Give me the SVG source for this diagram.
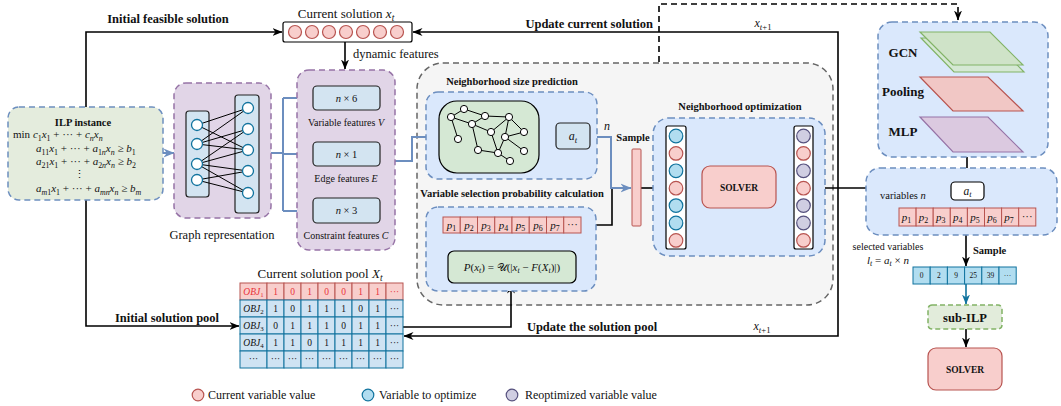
<svg xmlns="http://www.w3.org/2000/svg" width="1061" height="406" viewBox="0 0 1061 406">
<defs>
<marker id="ak" viewBox="0 0 10 10" refX="9.5" refY="5" markerWidth="10" markerHeight="10" markerUnits="userSpaceOnUse" orient="auto"><path d="M0,1 L10,5 L0,9 L3,5 Z" fill="#000"/></marker>
<marker id="ab" viewBox="0 0 10 10" refX="9.5" refY="5" markerWidth="11" markerHeight="11" markerUnits="userSpaceOnUse" orient="auto"><path d="M0,1 L10,5 L0,9 L3,5 Z" fill="#6c8ebf"/></marker>
<marker id="at" viewBox="0 0 10 10" refX="9.5" refY="5" markerWidth="10" markerHeight="10" markerUnits="userSpaceOnUse" orient="auto"><path d="M0,1 L10,5 L0,9 L3,5 Z" fill="#10739e"/></marker>
</defs>
<style>
text{font-family:"Liberation Serif","Times New Roman",serif;fill:#111}
.b{font-weight:bold}
.i{font-style:italic}
.m{text-anchor:middle}
.e{text-anchor:end}
.sb{font-size:72%;baseline-shift:-3px}
.sbs{font-size:72%;baseline-shift:-2px}
.bl{fill:none;stroke:#000;stroke-width:1.6}
.bu{fill:none;stroke:#6c8ebf;stroke-width:2}
.cr{fill:#f8cecc;stroke:#b85450;stroke-width:1.2}
.cb{fill:#b1ddf0;stroke:#10739e;stroke-width:1.2}
.cp{fill:#d0cee2;stroke:#56517e;stroke-width:1.2}
.gn{fill:#fff;stroke:#10739e;stroke-width:1.3}
.sn{fill:#fff;stroke:#000;stroke-width:1}
.dashb{fill:#dae8fc;stroke:#6c8ebf;stroke-width:1.5;stroke-dasharray:6,4}
.dashp{fill:#e1d5e7;stroke:#9673a6;stroke-width:1.5;stroke-dasharray:6,4}
.fb{fill:#d3e4f1;stroke:#222;stroke-width:1.2}
.pc{fill:#f8cecc;stroke:#b85450;stroke-width:1}
.tc{fill:#cfe3f3;stroke:#10739e;stroke-width:1}
.ac{fill:#b1ddf0;stroke:#10739e;stroke-width:1}
</style>
<rect width="1061" height="406" fill="#fff"/>

<!-- outer gray container -->
<g id="outer">
<rect x="417" y="63" width="416" height="242" rx="26" fill="#f5f5f5" stroke="#666" stroke-width="1.5" stroke-dasharray="6,4"/>
</g>

<g id="connectors">
<path class="bl" d="M86,107 V32 H282" marker-end="url(#ak)"/>
<path class="bl" d="M86,200 V326 H239" marker-end="url(#ak)"/>
<path class="bu" d="M163,153 H174" marker-end="url(#ab)"/>
<path class="bu" d="M259,153 H283 M283,98 V211"/>
<path class="bu" d="M283,98 H312" marker-end="url(#ab)"/>
<path class="bu" d="M283,154 H312" marker-end="url(#ab)"/>
<path class="bu" d="M283,211 H312" marker-end="url(#ab)"/>
<path class="bl" d="M345,42 V69" marker-end="url(#ak)"/>
<path class="bu" d="M395,161 H412 V137 H438" marker-end="url(#ab)"/>
<path class="bu" d="M539,137 H555" marker-end="url(#ab)"/>
<path class="bu" d="M590,137 H611 V188 H631" marker-end="url(#ab)"/>
<path class="bl" d="M581,225 H612 V189"/>
<path class="bl" d="M641,188 H665" marker-end="url(#ak)"/>
<path class="bl" d="M686,188 H701" marker-end="url(#ak)"/>
<path class="bl" d="M776,188 H793" marker-end="url(#ak)"/>
<path class="bl" d="M813,188 H866"/>
<path class="bl" d="M838,188 V32 H413" marker-end="url(#ak)"/>
<path class="bl" d="M838,188 V336 H404" marker-end="url(#ak)"/>
<path class="bl" d="M403,327 H511 V284" marker-end="url(#ak)"/>
<path class="bl" d="M511,251 V234" marker-end="url(#ak)"/>
<path fill="none" stroke="#000" stroke-width="1.6" stroke-dasharray="6,4" d="M659,62 V4 H958 V20" marker-end="url(#ak)"/>
<path class="bl" d="M971,72 V97" marker-end="url(#ak)"/>
<path class="bl" d="M971,111 V135" marker-end="url(#ak)"/>
<path class="bl" d="M967,157 V181" marker-end="url(#ak)"/>
<path class="bl" d="M966,235 V266" marker-end="url(#ak)"/>
<path fill="none" stroke="#10739e" stroke-width="1.6" d="M966,284 V304" marker-end="url(#at)"/>
<path class="bl" d="M966,329 V347" marker-end="url(#ak)"/>
</g>

<!-- connector labels -->
<g id="labels">
<text x="168" y="23" class="b m" font-size="12.5">Initial feasible solution</text>
<text x="167" y="322" class="b m" font-size="12.5">Initial solution pool</text>
<text x="653" y="28" class="b e" font-size="12.5">Update current solution</text>
<text x="763" y="27" class="m" font-size="12"><tspan class="i">x</tspan><tspan class="sb"><tspan class="i">t</tspan>+1</tspan></text>
<text x="592" y="331" class="b m" font-size="12.5">Update the solution pool</text>
<text x="762" y="330" class="m" font-size="12"><tspan class="i">x</tspan><tspan class="sb"><tspan class="i">t</tspan>+1</tspan></text>
<text x="353" y="58" font-size="12.5">dynamic features</text>
<text x="607" y="130" class="i m" font-size="12">n</text>
<text x="633" y="141" class="b m" font-size="10.5">Sample</text>
</g>

<g id="ilp">
<rect x="8" y="107" width="155" height="93" rx="11" fill="#e4ecdd" stroke="#6c8ebf" stroke-width="1.5" stroke-dasharray="6,4"/>
<text x="83" y="126" class="b m" font-size="10.5">ILP instance</text>
<text x="13" y="138" font-size="11">min <tspan class="i">c</tspan><tspan class="sb">1</tspan><tspan class="i">x</tspan><tspan class="sb">1</tspan> + ··· + <tspan class="i">c</tspan><tspan class="sb i">n</tspan><tspan class="i">x</tspan><tspan class="sb i">n</tspan></text>
<text x="36" y="152" font-size="11"><tspan class="i">a</tspan><tspan class="sb">11</tspan><tspan class="i">x</tspan><tspan class="sb">1</tspan> + ··· + <tspan class="i">a</tspan><tspan class="sb">1<tspan class="i">n</tspan></tspan><tspan class="i">x</tspan><tspan class="sb i">n</tspan> ≥ <tspan class="i">b</tspan><tspan class="sb">1</tspan></text>
<text x="36" y="165" font-size="11"><tspan class="i">a</tspan><tspan class="sb">21</tspan><tspan class="i">x</tspan><tspan class="sb">1</tspan> + ··· + <tspan class="i">a</tspan><tspan class="sb">2<tspan class="i">n</tspan></tspan><tspan class="i">x</tspan><tspan class="sb i">n</tspan> ≥ <tspan class="i">b</tspan><tspan class="sb">2</tspan></text>
<text x="79" y="178" class="m" font-size="11">⋮</text>
<text x="36" y="192" font-size="11"><tspan class="i">a</tspan><tspan class="sb"><tspan class="i">m</tspan>1</tspan><tspan class="i">x</tspan><tspan class="sb">1</tspan> + ··· + <tspan class="i">a</tspan><tspan class="sb i">mn</tspan><tspan class="i">x</tspan><tspan class="sb i">n</tspan> ≥ <tspan class="i">b</tspan><tspan class="sb i">m</tspan></text>
</g>

<g id="graph-representation">
<rect x="174" y="83" width="97" height="135" rx="12" class="dashp"/>
<rect x="186" y="111" width="23" height="86" rx="3" class="fb"/>
<rect x="235" y="95" width="24" height="118" rx="3" class="fb"/>
<g stroke="#000" stroke-width="1">
<line x1="197" y1="125" x2="248" y2="108"/><line x1="197" y1="125" x2="248" y2="150"/>
<line x1="197" y1="144" x2="248" y2="108"/><line x1="197" y1="144" x2="248" y2="129"/><line x1="197" y1="144" x2="248" y2="150"/>
<line x1="197" y1="164" x2="248" y2="129"/><line x1="197" y1="164" x2="248" y2="150"/><line x1="197" y1="164" x2="248" y2="171"/><line x1="197" y1="164" x2="248" y2="193"/>
<line x1="197" y1="180" x2="248" y2="171"/><line x1="197" y1="180" x2="248" y2="193"/>
</g>
<circle cx="197" cy="125" r="5.5" class="gn"/><circle cx="197" cy="144" r="5.5" class="gn"/><circle cx="197" cy="164" r="5.5" class="gn"/><circle cx="197" cy="180" r="5.5" class="gn"/>
<circle cx="248" cy="108" r="5.5" class="gn"/><circle cx="248" cy="129" r="5.5" class="gn"/><circle cx="248" cy="150" r="5.5" class="gn"/><circle cx="248" cy="171" r="5.5" class="gn"/><circle cx="248" cy="193" r="5.5" class="gn"/>
<text x="222" y="239" class="m" font-size="12.5">Graph representation</text>
</g>

<g id="features">
<rect x="297" y="70" width="98" height="180" rx="12" class="dashp"/>
<rect x="313" y="86" width="67" height="24" rx="4" class="fb"/>
<text x="346.5" y="102" class="m" font-size="10.5"><tspan class="i">n</tspan> × 6</text>
<text x="346" y="126" class="m" font-size="10">Variable features <tspan class="i">V</tspan></text>
<rect x="313" y="142" width="67" height="24" rx="4" class="fb"/>
<text x="346.5" y="158" class="m" font-size="10.5"><tspan class="i">n</tspan> × 1</text>
<text x="346" y="182" class="m" font-size="10">Edge features <tspan class="i">E</tspan></text>
<rect x="313" y="198" width="67" height="25" rx="4" class="fb"/>
<text x="346.5" y="214" class="m" font-size="10.5"><tspan class="i">n</tspan> × 3</text>
<text x="346" y="239" class="m" font-size="10">Constraint features <tspan class="i">C</tspan></text>
</g>

<g id="current-solution">
<text x="346" y="18" class="m" font-size="13">Current solution <tspan class="i">x</tspan><tspan class="sb i">t</tspan></text>
<rect x="283" y="22" width="129" height="20" rx="2" fill="#fff" stroke="#000" stroke-width="1.2"/>
<circle cx="295" cy="32" r="6.5" class="cr"/><circle cx="312" cy="32" r="6.5" class="cr"/><circle cx="329" cy="32" r="6.5" class="cr"/><circle cx="346" cy="32" r="6.5" class="cr"/><circle cx="363" cy="32" r="6.5" class="cr"/><circle cx="380" cy="32" r="6.5" class="cr"/><circle cx="397" cy="32" r="6.5" class="cr"/>
</g>

<g id="neighborhood-size-prediction">
<text x="512" y="85" class="b m" font-size="10.5">Neighborhood size prediction</text>
<rect x="426" y="92" width="171" height="87" rx="12" class="dashb"/>
<rect x="439" y="101" width="100" height="72" rx="18" fill="#d5e8d4" stroke="#000" stroke-width="1.2"/>
<g stroke="#000" stroke-width="1">
<line x1="451" y1="117" x2="464" y2="109"/><line x1="464" y1="109" x2="485" y2="116"/><line x1="451" y1="117" x2="472" y2="124"/><line x1="472" y1="124" x2="485" y2="116"/>
<line x1="472" y1="124" x2="491" y2="132"/><line x1="451" y1="117" x2="458" y2="139"/><line x1="472" y1="124" x2="478" y2="150"/>
<line x1="478" y1="150" x2="498" y2="153"/><line x1="491" y1="132" x2="498" y2="153"/><line x1="485" y1="116" x2="509" y2="117"/><line x1="509" y1="117" x2="505" y2="137"/>
<line x1="491" y1="132" x2="509" y2="117"/><line x1="505" y1="137" x2="524" y2="132"/><line x1="509" y1="117" x2="524" y2="132"/><line x1="505" y1="137" x2="498" y2="153"/>
<line x1="505" y1="137" x2="524" y2="151"/><line x1="498" y1="153" x2="510" y2="161"/>
</g>
<circle cx="464" cy="109" r="3.6" class="sn"/><circle cx="485" cy="116" r="3.6" class="sn"/><circle cx="451" cy="117" r="3.6" class="sn"/><circle cx="472" cy="124" r="3.6" class="sn"/><circle cx="509" cy="117" r="3.6" class="sn"/><circle cx="491" cy="132" r="3.6" class="sn"/><circle cx="524" cy="132" r="3.6" class="sn"/><circle cx="505" cy="137" r="3.6" class="sn"/><circle cx="458" cy="139" r="3.6" class="sn"/><circle cx="478" cy="150" r="3.6" class="sn"/><circle cx="498" cy="153" r="3.6" class="sn"/><circle cx="524" cy="151" r="3.6" class="sn"/><circle cx="510" cy="161" r="3.6" class="sn"/>
<rect x="556" y="123" width="34" height="26" rx="4" class="fb"/>
<text x="573" y="140" class="m" font-size="12"><tspan class="i">a</tspan><tspan class="sb i">t</tspan></text>
</g>

<g id="variable-selection">
<text x="512" y="197" class="b m" font-size="10.5">Variable selection probability calculation</text>
<rect x="426" y="207" width="170" height="84" rx="12" class="dashb"/>
<g>
<rect x="443" y="217" width="17.25" height="16" class="pc"/><rect x="460.25" y="217" width="17.25" height="16" class="pc"/><rect x="477.5" y="217" width="17.25" height="16" class="pc"/><rect x="494.75" y="217" width="17.25" height="16" class="pc"/><rect x="512" y="217" width="17.25" height="16" class="pc"/><rect x="529.25" y="217" width="17.25" height="16" class="pc"/><rect x="546.5" y="217" width="17.25" height="16" class="pc"/><rect x="563.75" y="217" width="17.25" height="16" class="pc"/>
<text y="229" font-size="11" class="m"><tspan x="451.6" class="i">p</tspan><tspan class="sbs">1</tspan></text>
<text y="229" font-size="11" class="m"><tspan x="468.9" class="i">p</tspan><tspan class="sbs">2</tspan></text>
<text y="229" font-size="11" class="m"><tspan x="486.1" class="i">p</tspan><tspan class="sbs">3</tspan></text>
<text y="229" font-size="11" class="m"><tspan x="503.4" class="i">p</tspan><tspan class="sbs">4</tspan></text>
<text y="229" font-size="11" class="m"><tspan x="520.6" class="i">p</tspan><tspan class="sbs">5</tspan></text>
<text y="229" font-size="11" class="m"><tspan x="537.9" class="i">p</tspan><tspan class="sbs">6</tspan></text>
<text y="229" font-size="11" class="m"><tspan x="555.1" class="i">p</tspan><tspan class="sbs">7</tspan></text>
<text x="572.4" y="228" font-size="11" class="m">···</text>
</g>
<rect x="448" y="251" width="128" height="32" rx="6" fill="#d5e8d4" stroke="#000" stroke-width="1.2"/>
<text x="512" y="271" class="m" font-size="11"><tspan class="i">P</tspan>(<tspan class="i">x</tspan><tspan class="sbs i">t</tspan>) = 𝒰(|<tspan class="i">x</tspan><tspan class="sbs i">t</tspan> − <tspan class="i">F</tspan>(<tspan class="i">X</tspan><tspan class="sbs i">t</tspan>)|)</text>
</g>

<g id="sample-bar">
<rect x="632" y="149" width="9" height="77" rx="1" class="pc"/>
</g>

<g id="neighborhood-optimization">
<text x="740" y="110" class="b m" font-size="10.5">Neighborhood optimization</text>
<rect x="653" y="118" width="172" height="138" rx="16" class="dashb"/>
<rect x="666" y="126" width="20" height="123" rx="2" fill="#fff" stroke="#000" stroke-width="1.2"/>
<circle cx="676" cy="136" r="6.8" class="cb"/><circle cx="676" cy="153.4" r="6.8" class="cr"/><circle cx="676" cy="170.8" r="6.8" class="cb"/><circle cx="676" cy="188.2" r="6.8" class="cr"/><circle cx="676" cy="205.6" r="6.8" class="cb"/><circle cx="676" cy="223" r="6.8" class="cb"/><circle cx="676" cy="240.4" r="6.8" class="cr"/>
<rect x="702" y="166" width="74" height="42" rx="8" fill="#f8cecc" stroke="#b85450" stroke-width="1.2"/>
<text x="739" y="191" class="b m" font-size="9.5">SOLVER</text>
<rect x="794" y="126" width="19" height="123" rx="2" fill="#fff" stroke="#000" stroke-width="1.2"/>
<circle cx="803.5" cy="136" r="6.8" class="cp"/><circle cx="803.5" cy="153.4" r="6.8" class="cr"/><circle cx="803.5" cy="170.8" r="6.8" class="cp"/><circle cx="803.5" cy="188.2" r="6.8" class="cr"/><circle cx="803.5" cy="205.6" r="6.8" class="cp"/><circle cx="803.5" cy="223" r="6.8" class="cp"/><circle cx="803.5" cy="240.4" r="6.8" class="cr"/>
</g>

<g id="solution-pool">
<text x="320" y="278" class="m" font-size="13">Current solution pool <tspan class="i">X</tspan><tspan class="sb i">t</tspan></text>
<g>
<rect x="240" y="283" width="27" height="17" class="pc"/>
<rect x="267" y="283" width="17" height="17" class="pc"/><rect x="284" y="283" width="17" height="17" class="pc"/><rect x="301" y="283" width="17" height="17" class="pc"/><rect x="318" y="283" width="17" height="17" class="pc"/><rect x="335" y="283" width="17" height="17" class="pc"/><rect x="352" y="283" width="17" height="17" class="pc"/><rect x="369" y="283" width="17" height="17" class="pc"/><rect x="386" y="283" width="17" height="17" class="pc"/>
</g>
<g>
<rect x="240" y="300" width="27" height="17" class="tc"/><rect x="267" y="300" width="17" height="17" class="tc"/><rect x="284" y="300" width="17" height="17" class="tc"/><rect x="301" y="300" width="17" height="17" class="tc"/><rect x="318" y="300" width="17" height="17" class="tc"/><rect x="335" y="300" width="17" height="17" class="tc"/><rect x="352" y="300" width="17" height="17" class="tc"/><rect x="369" y="300" width="17" height="17" class="tc"/><rect x="386" y="300" width="17" height="17" class="tc"/>
<rect x="240" y="317" width="27" height="17" class="tc"/><rect x="267" y="317" width="17" height="17" class="tc"/><rect x="284" y="317" width="17" height="17" class="tc"/><rect x="301" y="317" width="17" height="17" class="tc"/><rect x="318" y="317" width="17" height="17" class="tc"/><rect x="335" y="317" width="17" height="17" class="tc"/><rect x="352" y="317" width="17" height="17" class="tc"/><rect x="369" y="317" width="17" height="17" class="tc"/><rect x="386" y="317" width="17" height="17" class="tc"/>
<rect x="240" y="334" width="27" height="17" class="tc"/><rect x="267" y="334" width="17" height="17" class="tc"/><rect x="284" y="334" width="17" height="17" class="tc"/><rect x="301" y="334" width="17" height="17" class="tc"/><rect x="318" y="334" width="17" height="17" class="tc"/><rect x="335" y="334" width="17" height="17" class="tc"/><rect x="352" y="334" width="17" height="17" class="tc"/><rect x="369" y="334" width="17" height="17" class="tc"/><rect x="386" y="334" width="17" height="17" class="tc"/>
<rect x="240" y="351" width="27" height="17" class="tc"/><rect x="267" y="351" width="17" height="17" class="tc"/><rect x="284" y="351" width="17" height="17" class="tc"/><rect x="301" y="351" width="17" height="17" class="tc"/><rect x="318" y="351" width="17" height="17" class="tc"/><rect x="335" y="351" width="17" height="17" class="tc"/><rect x="352" y="351" width="17" height="17" class="tc"/><rect x="369" y="351" width="17" height="17" class="tc"/><rect x="386" y="351" width="17" height="17" class="tc"/>
</g>
<g font-size="9.5" class="m">
<text x="253.5" y="295" class="m" style="fill:#e8333a"><tspan class="i">OBJ</tspan><tspan class="sbs">1</tspan></text>
<text y="295" class="m" style="fill:#e8333a"><tspan x="275.5">1</tspan><tspan x="292.5">0</tspan><tspan x="309.5">1</tspan><tspan x="326.5">0</tspan><tspan x="343.5">0</tspan><tspan x="360.5">1</tspan><tspan x="377.5">1</tspan><tspan x="394.5">···</tspan></text>
<text x="253.5" y="312" class="m"><tspan class="i">OBJ</tspan><tspan class="sbs">2</tspan></text>
<text y="312" class="m"><tspan x="275.5">1</tspan><tspan x="292.5">0</tspan><tspan x="309.5">1</tspan><tspan x="326.5">1</tspan><tspan x="343.5">1</tspan><tspan x="360.5">0</tspan><tspan x="377.5">1</tspan><tspan x="394.5">···</tspan></text>
<text x="253.5" y="329" class="m"><tspan class="i">OBJ</tspan><tspan class="sbs">3</tspan></text>
<text y="329" class="m"><tspan x="275.5">0</tspan><tspan x="292.5">1</tspan><tspan x="309.5">1</tspan><tspan x="326.5">1</tspan><tspan x="343.5">0</tspan><tspan x="360.5">1</tspan><tspan x="377.5">1</tspan><tspan x="394.5">···</tspan></text>
<text x="253.5" y="346" class="m"><tspan class="i">OBJ</tspan><tspan class="sbs">4</tspan></text>
<text y="346" class="m"><tspan x="275.5">1</tspan><tspan x="292.5">1</tspan><tspan x="309.5">0</tspan><tspan x="326.5">1</tspan><tspan x="343.5">1</tspan><tspan x="360.5">1</tspan><tspan x="377.5">1</tspan><tspan x="394.5">···</tspan></text>
<text y="362" class="m"><tspan x="253.5">···</tspan><tspan x="275.5">···</tspan><tspan x="292.5">···</tspan><tspan x="309.5">···</tspan><tspan x="326.5">···</tspan><tspan x="343.5">···</tspan><tspan x="360.5">···</tspan><tspan x="377.5">···</tspan><tspan x="394.5">···</tspan></text>
</g>
</g>

<g id="gcn-panel">
<rect x="878" y="22" width="170" height="135" rx="14" class="dashb"/>
<polygon points="921,38 991,38 1024,72 954,72" fill="#d5e8d4" stroke="#82b366" stroke-width="1.2"/>
<polygon points="920,32 990,32 1023,65 953,65" fill="#cfe3c8" stroke="#82b366" stroke-width="1.2"/>
<polygon points="920,77 988,77 1023,111 953,111" fill="#f1c7c5" stroke="#b85450" stroke-width="1.2"/>
<polygon points="920,117 988,117 1023,152 953,152" fill="#dbc9e0" stroke="#9673a6" stroke-width="1.2"/>
<text x="903" y="57" class="b m" font-size="13">GCN</text>
<text x="903" y="96" class="b m" font-size="13">Pooling</text>
<text x="903" y="136" class="b m" font-size="13">MLP</text>
</g>

<g id="variables-panel">
<rect x="866" y="168" width="191" height="67" rx="14" class="dashb"/>
<rect x="951" y="182" width="33" height="18" rx="4" fill="#fff" stroke="#000" stroke-width="1.2"/>
<text x="967.5" y="195" class="m" font-size="11.5"><tspan class="i">a</tspan><tspan class="sbs i">t</tspan></text>
<text x="880" y="199" font-size="10.5">variables <tspan class="i">n</tspan></text>
<g>
<rect x="899" y="208" width="17.1" height="18" class="pc"/><rect x="916.1" y="208" width="17.1" height="18" class="pc"/><rect x="933.2" y="208" width="17.1" height="18" class="pc"/><rect x="950.3" y="208" width="17.1" height="18" class="pc"/><rect x="967.4" y="208" width="17.1" height="18" class="pc"/><rect x="984.5" y="208" width="17.1" height="18" class="pc"/><rect x="1001.6" y="208" width="17.1" height="18" class="pc"/><rect x="1018.7" y="208" width="17.1" height="18" class="pc"/>
<text y="221" font-size="11" class="m"><tspan x="906.5" class="i">p</tspan><tspan class="sbs">1</tspan></text>
<text y="221" font-size="11" class="m"><tspan x="923.6" class="i">p</tspan><tspan class="sbs">2</tspan></text>
<text y="221" font-size="11" class="m"><tspan x="940.7" class="i">p</tspan><tspan class="sbs">3</tspan></text>
<text y="221" font-size="11" class="m"><tspan x="957.8" class="i">p</tspan><tspan class="sbs">4</tspan></text>
<text y="221" font-size="11" class="m"><tspan x="974.9" class="i">p</tspan><tspan class="sbs">5</tspan></text>
<text y="221" font-size="11" class="m"><tspan x="992" class="i">p</tspan><tspan class="sbs">6</tspan></text>
<text y="221" font-size="11" class="m"><tspan x="1009.1" class="i">p</tspan><tspan class="sbs">7</tspan></text>
<text x="1027.2" y="220" font-size="11" class="m">···</text>
</g>
</g>

<g id="selected-variables">
<text x="888" y="250" class="m" font-size="10">selected variables</text>
<text x="888" y="264" class="m" font-size="11"><tspan class="i">l</tspan><tspan class="sbs i">t</tspan> = <tspan class="i">a</tspan><tspan class="sbs i">t</tspan> × <tspan class="i">n</tspan></text>
<text x="973" y="254" class="b" font-size="10.5">Sample</text>
<rect x="913" y="267" width="17.2" height="17" class="ac"/><rect x="930.2" y="267" width="17.2" height="17" class="ac"/><rect x="947.4" y="267" width="17.2" height="17" class="ac"/><rect x="964.6" y="267" width="17.2" height="17" class="ac"/><rect x="981.8" y="267" width="17.2" height="17" class="ac"/><rect x="999" y="267" width="17.2" height="17" class="ac"/>
<text y="278" font-size="7.5" class="m"><tspan x="921.6">0</tspan><tspan x="938.8">2</tspan><tspan x="956">9</tspan><tspan x="973.2">25</tspan><tspan x="990.4">39</tspan><tspan x="1007.6">···</tspan></text>
</g>

<g id="sub-ilp">
<rect x="928" y="305" width="74" height="24" rx="4" fill="#e2ecdb" stroke="#82b366" stroke-width="1.5" stroke-dasharray="5,3"/>
<text x="965" y="322" class="b m" font-size="12.5">sub-ILP</text>
</g>

<g id="solver-right">
<rect x="928" y="348" width="74" height="42" rx="8" fill="#f8cecc" stroke="#b85450" stroke-width="1.2"/>
<text x="965" y="373" class="b m" font-size="9.5">SOLVER</text>
</g>

<g id="legend">
<circle cx="198" cy="395" r="5.8" class="cr"/>
<text x="208" y="399" font-size="12">Current variable value</text>
<circle cx="368" cy="395" r="5.8" class="cb"/>
<text x="379" y="399" font-size="12">Variable to optimize</text>
<circle cx="512" cy="395" r="5.8" class="cp"/>
<text x="525" y="399" font-size="12">Reoptimized variable value</text>
</g>
</svg>
